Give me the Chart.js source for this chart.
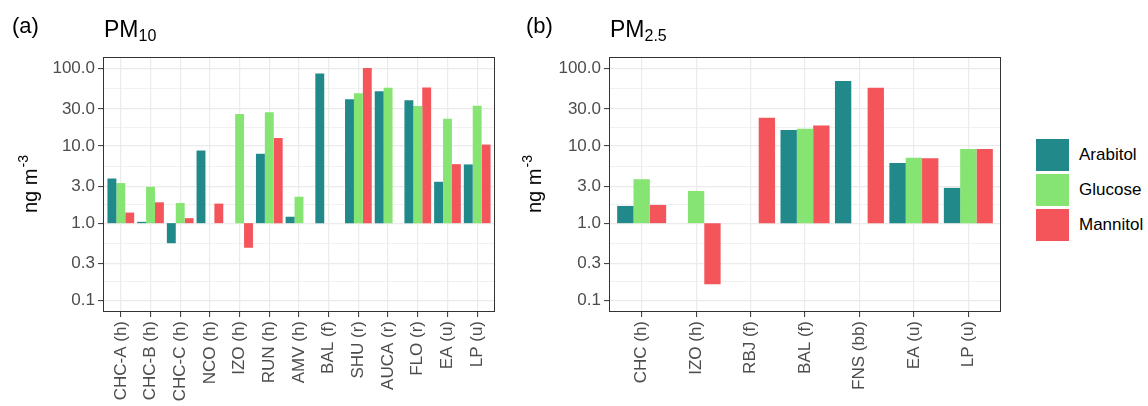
<!DOCTYPE html>
<html><head><meta charset="utf-8">
<script src="https://cdn.jsdelivr.net/npm/chart.js@4.4.1/dist/chart.umd.min.js"></script>
<style>
html,body{margin:0;padding:0;background:#fff;width:1148px;height:406px;overflow:hidden;font-family:'Liberation Sans',Arial,Helvetica,sans-serif;}
canvas{position:absolute;top:0;}
.lbl{position:absolute;white-space:nowrap;color:#000;line-height:1;}
.sub{font-size:16px;position:relative;top:4px;}
.ytitle{position:absolute;white-space:nowrap;color:#000;font-size:20px;line-height:20px;height:20px;transform:translate(-50%,-50%) rotate(-90deg);}
.ytitle .sup{font-size:14px;position:relative;top:-9px;margin-left:1px;}
.key{position:absolute;left:1036px;width:33px;height:32px;}
.ktxt{position:absolute;left:1079px;font-size:17px;line-height:32px;height:32px;color:#000;white-space:nowrap;}
</style></head><body>
<canvas id="ca" width="510" height="406" style="left:0"></canvas>
<canvas id="cb" width="500" height="406" style="left:510px"></canvas>

<div class="lbl" style="left:12px;top:15px;font-size:22px">(a)</div>
<div class="lbl" style="left:104px;top:18px;font-size:23px">PM<span class="sub">10</span></div>
<div class="lbl" style="left:526px;top:15px;font-size:22px">(b)</div>
<div class="lbl" style="left:610px;top:18px;font-size:23px">PM<span class="sub">2.5</span></div>

<div class="ytitle" style="left:29.5px;top:184px">ng m<span class="sup">-3</span></div>
<div class="ytitle" style="left:534px;top:184px">ng m<span class="sup">-3</span></div>

<div class="key" style="top:139px;background:#21898a"></div>
<div class="ktxt" style="top:139px">Arabitol</div>
<div class="key" style="top:174px;background:#86e572"></div>
<div class="ktxt" style="top:174px">Glucose</div>
<div class="key" style="top:209px;background:#f4555a"></div>
<div class="ktxt" style="top:209px">Mannitol</div>

<script>
// ---- data ----
const seriesNames = ['Arabitol', 'Glucose', 'Mannitol'];
const seriesColors = ['#21898a', '#86e572', '#f4555a'];

const pm10Sites = ['CHC-A (h)','CHC-B (h)','CHC-C (h)','NCO (h)','IZO (h)','RUN (h)','AMV (h)','BAL (f)','SHU (r)','AUCA (r)','FLO (r)','EA (u)','LP (u)'];
const pm10Arabitol = [3.78, 1.04, 0.55, 8.7, null, 7.9, 1.21, 86.5, 40.2, 51, 38.9, 3.43, 5.75];
const pm10Glucose  = [3.3, 2.95, 1.82, null, 25.8, 27.2, 2.2, null, 48, 56.4, 32.8, 22.4, 33.1];
const pm10Mannitol = [1.37, 1.86, 1.16, 1.79, 0.48, 12.6, null, null, 101.8, null, 56.9, 5.8, 10.4];

const pm25Sites = ['CHC (h)','IZO (h)','RBJ (f)','BAL (f)','FNS (bb)','EA (u)','LP (u)'];
const pm25Arabitol = [1.67, null, null, 16, 68.9, 6.0, 2.86];
const pm25Glucose  = [3.7, 2.61, null, 16.6, null, 7.0, 9.1];
const pm25Mannitol = [1.72, 0.162, 23.1, 18.4, 56.4, 6.9, 9.1];

const baseline = 1;
const yMajorTicks = [0.1, 0.3, 1, 3, 10, 30, 100];

// ---- helpers ----
const yMinorTicks = [];
for (let i = 0; i < yMajorTicks.length - 1; i++) {
  yMinorTicks.push(Math.pow(10, (Math.log10(yMajorTicks[i]) + Math.log10(yMajorTicks[i + 1])) / 2));
}
const isMajor = v => yMajorTicks.some(m => Math.abs(Math.log10(v) - Math.log10(m)) < 1e-6);

const framePlugin = {
  id: 'frame',
  afterDraw(chart) {
    const a = chart.chartArea, ctx = chart.ctx;
    ctx.save();
    ctx.strokeStyle = '#333333';
    ctx.lineWidth = 1;
    ctx.strokeRect(Math.round(a.left) + 0.5, Math.round(a.top) + 0.5,
                   Math.round(a.right - a.left) - 1, Math.round(a.bottom - a.top) - 1);
    ctx.restore();
  }
};

Chart.defaults.font.family = "'Liberation Sans', Arial, Helvetica, sans-serif";
Chart.defaults.animation = false;

function makePanel(canvasId, sites, values, yWidth, padRight) {
  const datasets = seriesNames.map((name, s) => ({
    label: name,
    data: sites.map((_, i) => ({ x: i, y: values[s][i] == null ? null : [baseline, values[s][i]] })),
    backgroundColor: seriesColors[s],
    borderWidth: 0,
    categoryPercentage: 0.9,
    barPercentage: 1.0,
    grouped: true
  }));
  return new Chart(document.getElementById(canvasId), {
    type: 'bar',
    data: { datasets },
    options: {
      responsive: false,
      animation: false,
      layout: { padding: { top: 57, right: padRight, left: 0, bottom: 0 } },
      plugins: { legend: { display: false }, tooltip: { enabled: false } },
      scales: {
        x: {
          type: 'linear',
          offset: false,
          min: -0.6,
          max: sites.length - 1 + 0.6,
          afterBuildTicks: s => { s.ticks = sites.map((_, i) => ({ value: i })); },
          afterFit: s => { s.height = 94; },
          ticks: {
            callback: v => sites[v],
            autoSkip: false,
            maxRotation: 90,
            minRotation: 90,
            padding: 4,
            color: '#4d4d4d',
            font: { size: 17 }
          },
          grid: { offset: false, color: '#ebebeb', lineWidth: 1.2, tickColor: '#333333', tickLength: 5, tickWidth: 1 },
          border: { display: false }
        },
        y: {
          type: 'logarithmic',
          min: Math.pow(10, -1.15),
          max: Math.pow(10, 2.15),
          afterBuildTicks: s => {
            s.ticks = yMajorTicks.concat(yMinorTicks).sort((a, b) => a - b).map(v => ({ value: v }));
          },
          afterFit: s => { s.width = yWidth; },
          ticks: {
            callback: v => isMajor(v) ? v.toFixed(1) : '',
            autoSkip: false,
            padding: 3,
            color: '#4d4d4d',
            font: { size: 17 }
          },
          grid: {
            color: '#ebebeb',
            lineWidth: c => isMajor(c.tick.value) ? 1.2 : 0.7,
            tickColor: c => isMajor(c.tick.value) ? '#333333' : 'rgba(0,0,0,0)',
            tickLength: 5,
            tickWidth: 1
          },
          border: { display: false },
          title: { display: false }
        }
      }
    },
    plugins: [framePlugin]
  });
}

makePanel('ca', pm10Sites, [pm10Arabitol, pm10Glucose, pm10Mannitol], 103, 15);
makePanel('cb', pm25Sites, [pm25Arabitol, pm25Glucose, pm25Mannitol], 99, 9);
</script>
</body></html>
